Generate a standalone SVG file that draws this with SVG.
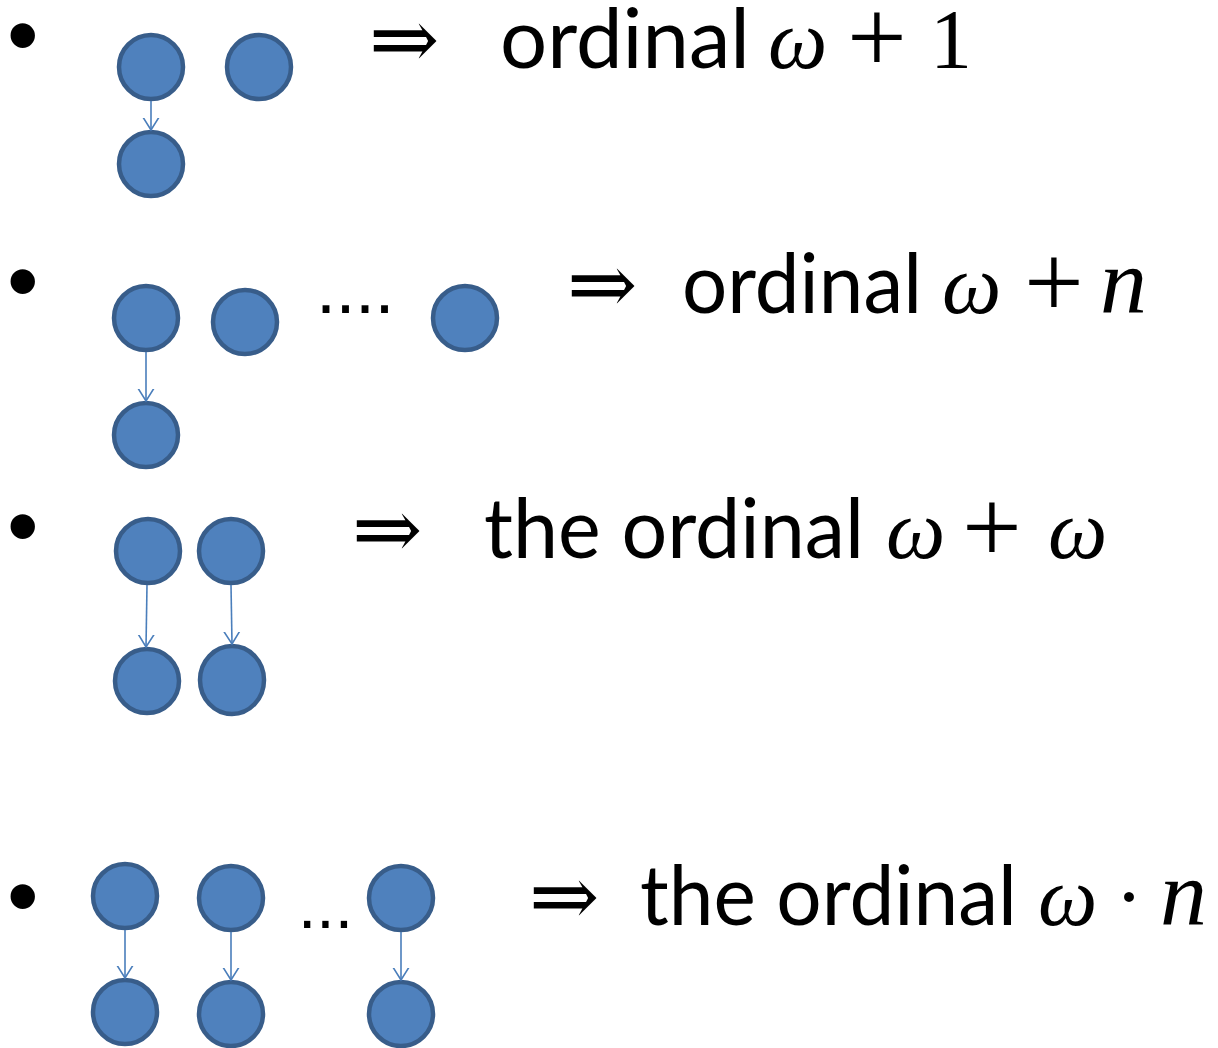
<svg xmlns="http://www.w3.org/2000/svg" width="1218" height="1048" viewBox="0 0 1218 1048">
<defs>
<style>
.node{fill:#4F81BD;stroke:#385D8A;stroke-width:4.5}
.conn{stroke:#4A7EBB;stroke-width:1.6;fill:none}
.txt{font-family:"Liberation Sans","Open Sans",sans-serif;fill:#000}
.body{font-family:Lato,"Open Sans","Liberation Sans",sans-serif;font-size:84px;fill:#000}
.math{font-family:"Liberation Serif","DejaVu Serif",serif;font-size:84px;fill:#000}
.plus{font-size:106px}
.nn{font-size:94px}
.mi{font-style:italic}
.bul{font-family:"Liberation Sans",sans-serif;font-size:90px;fill:#000}
</style>
<marker id="arr" markerUnits="userSpaceOnUse" markerWidth="24" markerHeight="24" viewBox="-12 -12 24 24" refX="0" refY="0" orient="auto">
<path d="M-16,-10 L0,0 L-16,10" fill="none" stroke="#4A7EBB" stroke-width="1.6"/>
</marker>
</defs>
<rect width="1218" height="1048" fill="#fff"/>

<g id="bullets">
<text class="bul" x="7" y="66">•</text>
<text class="bul" x="7" y="312">•</text>
<text class="bul" x="7" y="557">•</text>
<text class="bul" x="7" y="927">•</text>
</g>

<!-- Row 1 -->
<g id="r1a"><circle class="node" cx="151" cy="67" r="32"/></g>
<g id="r1b"><circle class="node" cx="259" cy="67" r="32"/></g>
<g id="r1c"><circle class="node" cx="151" cy="164" r="32"/></g>
<g id="r1text">
<text class="math" x="369" y="68">⇒</text>
<text class="body" x="500" y="68" textLength="250" lengthAdjust="spacingAndGlyphs">ordinal</text>
<text class="math mi" x="768" y="68">ω</text>
<text class="math plus" x="847" y="73">+</text>
<text class="math" x="930" y="68">1</text>
</g>

<!-- Row 2 -->
<g id="r2a"><circle class="node" cx="146" cy="318" r="32"/></g>
<g id="r2b"><circle class="node" cx="245" cy="322" r="32"/></g>
<g id="r2c"><circle class="node" cx="465" cy="318" r="32"/></g>
<g id="r2d"><circle class="node" cx="146" cy="435" r="32"/></g>
<g id="r2text">
<text class="txt" x="316" y="313" font-size="72" letter-spacing="-0.5">....</text>
<text class="math" x="567" y="313">⇒</text>
<text class="body" x="682" y="313" textLength="240" lengthAdjust="spacingAndGlyphs">ordinal</text>
<text class="math mi" x="942" y="313">ω</text>
<text class="math plus" x="1024" y="318">+</text>
<text class="math mi nn" x="1100" y="313">n</text>
</g>

<!-- Row 3 -->
<g id="r3a"><circle class="node" cx="148" cy="551" r="32"/></g>
<g id="r3b"><circle class="node" cx="231" cy="551" r="32"/></g>
<g id="r3c"><circle class="node" cx="147" cy="681" r="32"/></g>
<g id="r3d"><ellipse class="node" cx="232" cy="680" rx="32" ry="34"/></g>
<g id="r3text">
<text class="math" x="352" y="558">⇒</text>
<text class="body" x="484" y="558" textLength="380" lengthAdjust="spacingAndGlyphs">the ordinal</text>
<text class="math mi" x="886" y="558">ω</text>
<text class="math plus" x="962" y="563">+</text>
<text class="math mi" x="1048" y="558">ω</text>
</g>

<!-- Row 4 -->
<g id="r4a"><circle class="node" cx="125" cy="896" r="32"/></g>
<g id="r4b"><circle class="node" cx="231" cy="898" r="32"/></g>
<g id="r4c"><circle class="node" cx="401" cy="898" r="32"/></g>
<g id="r4d"><circle class="node" cx="125" cy="1012" r="32"/></g>
<g id="r4e"><circle class="node" cx="231" cy="1014" r="32"/></g>
<g id="r4f"><circle class="node" cx="401" cy="1014" r="32"/></g>
<g id="r4text">
<text class="txt" x="298" y="928" font-size="66" letter-spacing="0">...</text>
<text class="math" x="529" y="925">⇒</text>
<text class="body" x="640" y="925" textLength="377" lengthAdjust="spacingAndGlyphs">the ordinal</text>
<text class="math mi" x="1038" y="925">ω</text>
<text class="math" x="1115" y="925" font-size="96">·</text>
<text class="math mi nn" x="1160" y="925">n</text>
</g>

<g id="connectors">
<line class="conn" x1="151" y1="101" x2="151" y2="130" marker-end="url(#arr)"/>
<line class="conn" x1="146" y1="352" x2="146" y2="401" marker-end="url(#arr)"/>
<line class="conn" x1="147" y1="585" x2="146" y2="647" marker-end="url(#arr)"/>
<line class="conn" x1="231" y1="585" x2="232" y2="644" marker-end="url(#arr)"/>
<line class="conn" x1="125" y1="930" x2="125" y2="978" marker-end="url(#arr)"/>
<line class="conn" x1="231" y1="932" x2="231" y2="980" marker-end="url(#arr)"/>
<line class="conn" x1="401" y1="932" x2="401" y2="980" marker-end="url(#arr)"/>
</g>
</svg>
